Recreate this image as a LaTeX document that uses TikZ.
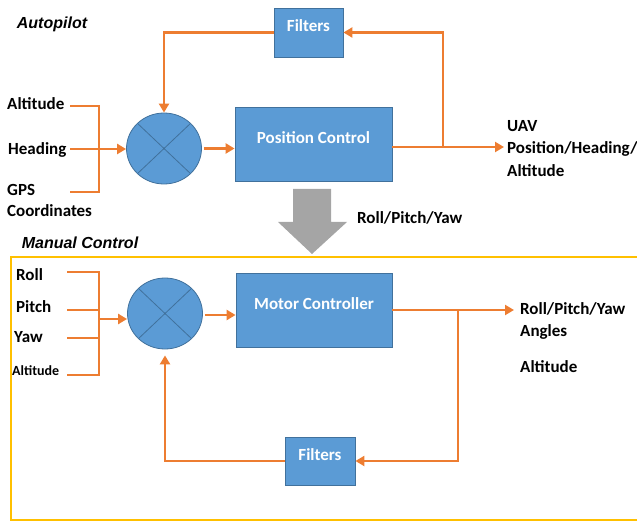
\documentclass[tikz,border=0pt]{standalone}
\usepackage{fontspec}
\setmainfont{Carlito}
\newfontfamily\headfont{Liberation Sans}
\usetikzlibrary{arrows.meta,shapes.geometric}
\definecolor{boxblue}{HTML}{5B9BD5}
\definecolor{boxedge}{HTML}{41719C}
\definecolor{wireorange}{HTML}{ED7D31}
\definecolor{arrowgray}{HTML}{A5A5A5}
\definecolor{frameyellow}{HTML}{FFC000}
\tikzset{
  block/.style={draw=boxedge, fill=boxblue, line width=0.8pt, inner sep=0pt,
    text=white, font=\bfseries\fontsize{17}{20}\selectfont,
    text height=10pt, text depth=11pt},
  summer/.style={ellipse, draw=boxedge, fill=boxblue, line width=0.8pt,
    minimum width=75pt, minimum height=71pt, inner sep=0pt,
    path picture={\draw[boxedge, line width=0.8pt]
      (path picture bounding box.north west) -- (path picture bounding box.south east)
      (path picture bounding box.north east) -- (path picture bounding box.south west);}},
  lbl/.style={font=\bfseries\fontsize{17}{22.5}\selectfont, inner sep=0pt, align=left, text=black},
  head/.style={font=\headfont\bfseries\itshape\fontsize{16}{19}\selectfont, inner sep=0pt},
  wire/.style={draw=wireorange, line width=2.6pt, line join=miter},
  arr/.style={wire, -{Triangle[length=9pt,width=10pt]}},
}
\begin{document}
\begin{tikzpicture}[x=1pt, y=-1pt]
\useasboundingbox (0,0) rectangle (637,521);

% ---------------- Autopilot loop ----------------
\node[head] (autopilot) at (52,24) {Autopilot};

\node[block, minimum width=69pt, minimum height=49pt] (filt1) at (308.5,32.5) {Filters};
\node[summer] (sum1) at (164,148.5) {};
\node[block, minimum width=157pt, minimum height=74pt] (pc) at (313.5,144) {Position Control};

\node[lbl, anchor=west] (altIn) at (7,104) {Altitude};
\node[lbl, anchor=west] (hdgIn) at (8,150) {Heading};
\node[lbl, anchor=north west] (gpsIn) at (7,184) {GPS\\[-1.5pt]Coordinates};

\coordinate (a1) at (70,106);
\coordinate (a2) at (70,149);
\coordinate (a3) at (70,192);
\draw[wire] (a1) -- (99,106) -- (99,192) -- (a3);
\draw[arr] (a2) -- (a2 -| sum1.west);
\draw[arr, shorten <=2pt] (sum1.east) -- (sum1.east -| pc.west);

\node[lbl, anchor=north west] (uav) at (507,120) {UAV\\Position/Heading/\\Altitude};
\coordinate (out1) at (504,147);
\coordinate (br1) at (443,147);
\draw[arr] (pc.east |- out1) -- (out1);
\draw[arr] (br1) |- (filt1.east);
\draw[arr] (filt1.west) -| (sum1.north);

% ---------------- hand-over arrow ----------------
\fill[arrowgray] (293,189) -- (331,189) -- (331,222) -- (347,222) -- (312,254)
  -- (278,222) -- (293,222) -- cycle;
\node[lbl, anchor=west] (rpy) at (357,218) {Roll/Pitch/Yaw};

% ---------------- Manual control loop (frame open on the right) ----------------
\draw[frameyellow, line width=1.2pt] (637,257) -- (11,257) -- (11,520) -- (637,520);
\node[head] (manual) at (80,243) {Manual Control};

\node[summer] (sum2) at (165,313.5) {};
\node[block, minimum width=156pt, minimum height=74pt] (mc) at (314,310) {Motor Controller};
\node[block, minimum width=70pt, minimum height=48pt] (filt2) at (320,461) {Filters};

\node[lbl, anchor=west] (rollIn) at (16,275) {Roll};
\node[lbl, anchor=west] (pitchIn) at (16,307) {Pitch};
\node[lbl, anchor=west] (yawIn) at (14,337) {Yaw};
\node[lbl, anchor=west, font=\bfseries\fontsize{14}{17}\selectfont] (altIn2) at (12,371) {Altitude};

\coordinate (b1) at (67,272);
\coordinate (b2) at (67,310);
\coordinate (b3) at (67,338);
\coordinate (b4) at (67,375);
\coordinate (bj) at (99,319);
\draw[wire] (b1) -- (99,272) -- (99,375) -- (b4);
\draw[wire] (b2) -- (99,310);
\draw[wire] (b3) -- (99,338);
\draw[arr] (bj) -- (bj -| sum2.west);
\draw[arr, shorten <=2pt] (sum2.east |- 0,315) -- (mc.west |- 0,315);

\coordinate (out2) at (514,310);
\coordinate (br2) at (458,310);
\draw[arr] (mc.east) -- (out2);
\draw[arr] (br2) |- (filt2.east);
\draw[arr, shorten >=6pt] (filt2.west) -| (sum2.south);

\node[lbl, anchor=north west] (rpyOut) at (520,302) {Roll/Pitch/Yaw\\[-0.5pt]Angles};
\node[lbl, anchor=west] (altOut) at (520,367) {Altitude};
\end{tikzpicture}
\end{document}
